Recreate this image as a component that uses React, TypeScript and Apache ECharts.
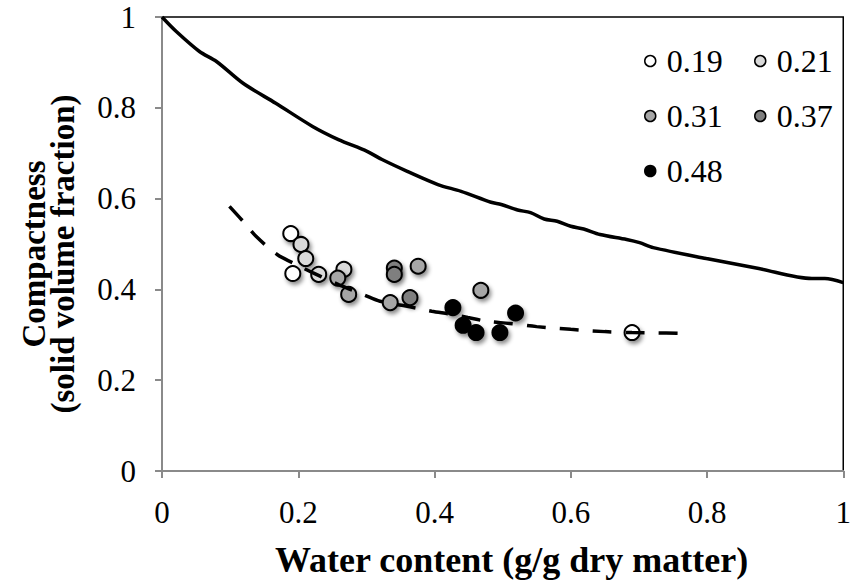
import React, { useEffect, useRef } from "react";
import * as echarts from "echarts";

const xTitle = "Water content (g/g dry matter)";
const yTitle = "Compactness\n(solid volume fraction)";

const seriesNames = ["0.19", "0.21", "0.31", "0.37", "0.48"];
const seriesColors = ["#ffffff", "#d9d9d9", "#a6a6a6", "#7f7f7f", "#000000"];

const pts019: number[][] = [
  [0.189, 0.523],
  [0.192, 0.435],
  [0.69, 0.305],
];
const pts021: number[][] = [
  [0.204, 0.499],
  [0.211, 0.468],
  [0.23, 0.433],
  [0.267, 0.444],
];
const pts031: number[][] = [
  [0.258, 0.425],
  [0.274, 0.389],
  [0.335, 0.371],
  [0.376, 0.451],
  [0.468, 0.398],
];
const pts037: number[][] = [
  [0.341, 0.447],
  [0.341, 0.433],
  [0.364, 0.382],
];
const pts048: number[][] = [
  [0.427, 0.36],
  [0.442, 0.321],
  [0.461, 0.305],
  [0.496, 0.305],
  [0.519, 0.348],
];

const solidCurve: number[][] = [
  [0, 1], [0.021, 0.968], [0.055, 0.924], [0.08, 0.902], [0.119, 0.854],
  [0.167, 0.81], [0.221, 0.759], [0.259, 0.73], [0.301, 0.704], [0.323, 0.686],
  [0.36, 0.66], [0.405, 0.631], [0.439, 0.616], [0.483, 0.592], [0.498, 0.587],
  [0.522, 0.575], [0.541, 0.569], [0.561, 0.555], [0.58, 0.55], [0.6, 0.539],
  [0.619, 0.533], [0.643, 0.521], [0.682, 0.51], [0.701, 0.503], [0.721, 0.492],
  [0.799, 0.468], [0.876, 0.446], [0.954, 0.424], [0.973, 0.424], [1.0, 0.415],
];

const dashedCurve: number[][] = [
  [0.099, 0.583], [0.119, 0.55], [0.138, 0.517], [0.169, 0.477], [0.201, 0.452],
  [0.221, 0.437], [0.26, 0.41], [0.298, 0.387], [0.32, 0.374], [0.352, 0.365],
  [0.376, 0.358], [0.396, 0.352], [0.425, 0.345], [0.449, 0.338], [0.476, 0.33],
  [0.51, 0.325], [0.55, 0.318], [0.6, 0.312], [0.65, 0.307], [0.69, 0.305],
  [0.74, 0.304], [0.777, 0.303],
];

const allPoints = [pts019, pts021, pts031, pts037, pts048];

const FONT = "'Liberation Serif', 'Times New Roman', serif";

export default function App() {
  const ref = useRef<HTMLDivElement>(null);
  useEffect(() => {
    if (!ref.current) return;
    const chart = echarts.init(ref.current, undefined, { renderer: "svg" });
    const axisGray = "#8a8a8a";
    const scatterSeries = seriesNames.map((name, i) => ({
      name,
      type: "scatter",
      data: allPoints[i],
      symbol: "circle",
      symbolSize: 15,
      z: 3,
      itemStyle: {
        color: seriesColors[i],
        borderColor: "#000",
        borderWidth: 2,
        opacity: 1,
        shadowBlur: 4,
        shadowOffsetX: 2,
        shadowOffsetY: 3,
        shadowColor: "rgba(0,0,0,0.45)",
      },
    }));
    const legendCommon = {
      orient: "vertical",
      itemWidth: 11,
      itemHeight: 11,
      itemGap: 23,
      padding: 0,
      icon: "circle",
      itemStyle: { borderColor: "#000", borderWidth: 1.5, shadowBlur: 0, shadowOffsetX: 0, shadowOffsetY: 0 },
      textStyle: {
        fontFamily: FONT,
        fontSize: 32,
        lineHeight: 32,
        color: "#000",
        padding: [0, 0, 0, 6],
      },
      top: 45,
    };
    chart.setOption({
      animation: false,
      backgroundColor: "#fff",
      grid: {
        left: 162,
        right: 6,
        top: 17,
        bottom: 111,
        show: true,
        borderColor: "#000",
        borderWidth: 1.5,
        backgroundColor: "transparent",
      },
      legend: [
        { ...legendCommon, left: 644, data: ["0.19", "0.31", "0.48"] },
        { ...legendCommon, left: 754, data: ["0.21", "0.37"] },
      ],
      xAxis: {
        type: "value",
        min: 0,
        max: 1,
        interval: 0.2,
        name: xTitle,
        nameLocation: "middle",
        nameGap: 71,
        nameTextStyle: {
          fontFamily: FONT,
          fontSize: 36,
          fontWeight: "bold",
          color: "#000",
          padding: [0, 0, 0, 18],
        },
        axisLine: { show: true, onZero: false, lineStyle: { color: axisGray, width: 2 } },
        axisTick: { show: true, length: 7, lineStyle: { color: axisGray, width: 2 } },
        splitLine: { show: false },
        axisLabel: { fontFamily: FONT, fontSize: 31, color: "#000", margin: 26 },
      },
      yAxis: {
        type: "value",
        min: 0,
        max: 1,
        interval: 0.2,
        name: yTitle,
        nameLocation: "middle",
        nameRotate: 90,
        nameGap: 85,
        nameTextStyle: {
          fontFamily: FONT,
          fontSize: 33,
          fontWeight: "bold",
          color: "#000",
          lineHeight: 29,
          padding: [0, 20, 0, 0],
        },
        axisLine: { show: true, onZero: false, lineStyle: { color: axisGray, width: 2 } },
        axisTick: { show: true, length: 7, lineStyle: { color: axisGray, width: 2 } },
        splitLine: { show: false },
        axisLabel: { fontFamily: FONT, fontSize: 31, color: "#000", margin: 26 },
      },
      series: [
        {
          name: "solid",
          type: "line",
          data: solidCurve,
          showSymbol: false,
          symbol: "none",
          smooth: 0.3,
          z: 2,
          lineStyle: { color: "#000", width: 3.5 },
        },
        ...scatterSeries,
        {
          name: "dashed",
          type: "line",
          data: dashedCurve,
          showSymbol: false,
          symbol: "none",
          smooth: 0.3,
          z: 4,
          lineStyle: { color: "#000", width: 3.5, type: [19, 14] },
        },
      ],
    });
    return () => chart.dispose();
  }, []);
  return (
    <div
      ref={ref}
      style={{ position: "fixed", left: 0, top: 0, width: 854, height: 583, background: "#fff" }}
    />
  );
}
